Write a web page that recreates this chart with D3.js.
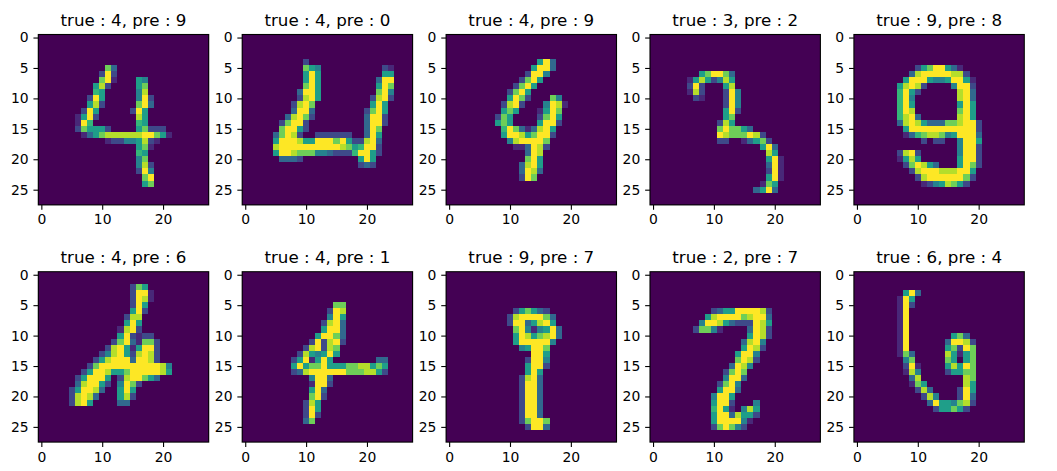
<!DOCTYPE html>
<html>
<head>
<meta charset="utf-8">
<script src="https://cdn.jsdelivr.net/npm/d3@7"></script>
<style>
  body { margin: 0; background: #fff; }
  text { font-family: "DejaVu Sans", sans-serif; }
</style>
</head>
<body>
<svg id="chart" width="1057" height="471"></svg>
<script>
const trueLabels = [4, 4, 4, 3, 9, 4, 4, 9, 2, 6];
const predLabels = [9, 0, 9, 2, 8, 6, 1, 7, 7, 4];
const xTicks = [0, 10, 20];
const yTicks = [0, 5, 10, 15, 20, 25];

// pixel runs: [row, first col, intensity 0-9 for each following col]
const digit0 = [[5,11,"73"],[6,10,"292"],[7,10,"791"],[7,16,"54"],[8,9,"582"],[8,16,"57"],[9,9,"65"],[9,16,"48"],
  [10,8,"295"],[10,16,"492"],[11,8,"582"],[11,16,"793"],[12,7,"295"],[12,15,"295"],[13,6,"1592"],[13,16,"85"],
  [14,6,"196"],[14,16,"65"],[15,6,"275552"],[15,16,"57222"],[16,7,"135788888899751"],[17,11,"122445821"],
  [18,16,"571"],[19,16,"65"],[20,16,"47"],[21,16,"482"],[22,16,"294"],[23,17,"79"],[24,17,"57"]];
const digit1 = [[4,10,"2"],[5,10,"754"],[5,23,"21"],[6,10,"595"],[6,23,"55"],[7,10,"595"],[7,22,"399"],
  [8,10,"795"],[8,22,"597"],[9,9,"3995"],[9,22,"794"],[10,9,"2895"],[10,21,"2892"],[11,8,"2897"],[11,21,"595"],
  [12,8,"3993"],[12,20,"2795"],[13,7,"38972"],[13,20,"3992"],[14,6,"27992"],[14,20,"3992"],[15,6,"79952"],[15,20,"397"],
  [16,5,"37982"],[16,12,"222222"],[16,20,"395"],[17,5,"599985599979522"],[17,20,"893"],
  [18,5,"899999999998756992"],[19,5,"599877744322269952"],[20,6,"3332"],[20,19,"595"],[21,19,"232"]];
const digit2 = [[4,15,"593"],[5,14,"5993"],[6,13,"2994"],[7,12,"2795"],[8,11,"2795"],[9,10,"2795"],[10,10,"5972"],[10,17,"74"],
  [11,9,"2892"],[11,16,"4981"],[12,9,"575"],[12,15,"1597"],[13,8,"275"],[13,15,"2795"],[14,8,"575"],[14,15,"5992"],
  [15,9,"697313895"],[16,9,"599857992"],[17,10,"4899997"],[18,11,"113982"],[19,13,"398"],[20,13,"795"],
  [21,12,"3895"],[22,12,"3983"],[23,12,"297"]];
const digit3 = [[6,8,"579973"],[7,6,"15852485"],[8,6,"292"],[8,12,"58"],[9,6,"182"],[9,12,"294"],[10,7,"21"],[10,12,"294"],
  [11,12,"294"],[12,12,"592"],[13,12,"57"],[14,11,"285"],[15,11,"797753"],[16,11,"98777982"],[17,11,"22"],[17,15,"13572"],
  [18,18,"593"],[19,19,"85"],[20,19,"591"],[21,19,"391"],[22,19,"291"],[23,19,"591"],[24,18,"175"],[25,17,"3593"]];
const digit4 = [[5,10,"25799531"],[6,9,"3899999882"],[7,8,"599954459951"],[8,7,"58982"],[8,16,"4992"],
  [9,7,"6952"],[9,17,"893"],[10,7,"694"],[10,17,"893"],[11,7,"695"],[11,17,"595"],[12,7,"698"],[12,17,"795"],
  [13,7,"6893"],[13,17,"895"],[14,7,"38985333778992"],[15,8,"5999999999992"],[16,8,"1367887459993"],
  [17,11,"2"],[17,13,"22"],[17,17,"4995"],[18,17,"4992"],[19,7,"2892"],[19,17,"4992"],[20,7,"1585"],[20,17,"5992"],
  [21,8,"279853"],[21,17,"5972"],[22,9,"28999888995"],[23,10,"2899999972"],[24,11,"12458752"]];
const digit5 = [[2,15,"275"],[3,15,"2991"],[4,15,"2981"],[5,15,"295"],[6,15,"592"],[7,14,"288"],[8,14,"595"],
  [9,13,"1892"],[10,13,"592122"],[11,12,"27931772"],[12,11,"289515992"],[13,10,"2489528982"],
  [14,9,"25899939982"],[15,8,"27999999999984"],[16,7,"259985579999985"],[17,6,"25999502899753"],
  [18,6,"389952"],[18,13,"4972"],[19,5,"259983"],[19,13,"595"],[20,5,"28983"],[20,13,"582"],[21,5,"2895"],[21,13,"33"]];
const digit6 = [[5,15,"77"],[6,14,"298"],[7,14,"495"],[8,13,"2893"],[9,13,"5993"],[10,12,"59973"],[11,11,"292892"],
  [12,10,"289287"],[13,9,"2854595"],[14,8,"2591595"],[14,22,"33"],[15,8,"5957795557788575"],
  [16,8,"2389999997778852"],[17,11,"4993"],[18,11,"1992"],[19,11,"593"],[20,11,"792"],[21,10,"285"],
  [22,10,"295"],[23,10,"292"],[24,10,"37"]];
const digit7 = [[6,11,"257532"],[7,10,"28999973"],[8,10,"29935895"],[9,11,"79414593"],[10,11,"59857893"],
  [11,11,"5999994"],[12,12,"45997"],[13,14,"995"],[14,13,"2994"],[15,13,"5992"],[16,13,"595"],[17,12,"2893"],
  [18,12,"2993"],[19,12,"2993"],[20,12,"2993"],[21,12,"2993"],[22,12,"2993"],[23,12,"2993"],[24,12,"27997"],[25,13,"2993"]];
const digit8 = [[6,10,"2355999982"],[7,9,"58999978993"],[8,8,"499853222985"],[9,7,"27741"],[9,16,"3982"],
  [10,16,"5982"],[11,15,"3894"],[12,15,"5982"],[13,14,"5994"],[14,14,"7982"],[15,13,"3984"],[16,12,"2797"],
  [17,12,"4993"],[18,11,"2794"],[19,11,"5993"],[20,10,"4995"],[21,10,"5992"],[21,17,"4"],[22,10,"69510485"],
  [23,10,"59938552"],[24,10,"5999941"],[25,10,"279742"]];
const digit9 = [[3,8,"593"],[4,7,"195"],[5,7,"192"],[6,7,"19"],[7,7,"19"],[8,7,"19"],[9,7,"19"],[10,7,"19"],[10,16,"573"],
  [11,7,"19"],[11,15,"39982"],[12,7,"19"],[12,15,"57297"],[13,7,"173"],[13,15,"85157"],[14,8,"47"],[14,15,"75057"],
  [15,8,"291"],[15,15,"58597"],[16,8,"184"],[16,15,"25577"],[17,9,"38"],[17,18,"87"],[18,9,"175"],[18,18,"85"],
  [19,10,"283"],[19,17,"295"],[20,11,"284"],[20,17,"293"],[21,12,"39554782"],[22,13,"255752"]];
const digits = [digit0, digit1, digit2, digit3, digit4, digit5, digit6, digit7, digit8, digit9];

const size = 28;
const side = 170.4;
const left0 = 38.3, stepX = 203.9;
const tops = [34.5, 271.7];

function toGrid(runs) {
    const grid = [];
    for (let r = 0; r < size; r++)
        for (let c = 0; c < size; c++) grid.push({ r: r, c: c, v: 0 });
    runs.forEach(([r, c0, s]) => {
        for (let k = 0; k < s.length; k++) grid[r * size + c0 + k].v = +s[k] / 9;
    });
    return grid;
}

const svg = d3.select("#chart");
const x = d3.scaleLinear().domain([-0.5, size - 0.5]).range([0, side]);
const y = d3.scaleLinear().domain([-0.5, size - 0.5]).range([0, side]);

digits.forEach((runs, i) => {
    const g = svg.append("g")
        .attr("transform", `translate(${left0 + (i % 5) * stepX},${tops[Math.floor(i / 5)]})`);

    // image cells
    g.append("g")
        .selectAll("rect")
        .data(toGrid(runs))
        .join("rect")
        .attr("x", d => x(d.c - 0.5))
        .attr("y", d => y(d.r - 0.5))
        .attr("width", x(1) - x(0))
        .attr("height", y(1) - y(0))
        .attr("fill", d => d3.interpolateViridis(d.v))
        .attr("shape-rendering", "crispEdges");

    // axes
    const xa = g.append("g")
        .attr("transform", `translate(0,${side})`)
        .call(d3.axisBottom(x).tickValues(xTicks).tickSize(4.86).tickPadding(4.86));
    const ya = g.append("g")
        .call(d3.axisLeft(y).tickValues(yTicks).tickSize(4.86).tickPadding(4.86));
    [xa, ya].forEach(a => {
        a.attr("font-family", null).attr("font-size", null);
        a.select(".domain").remove();
        a.selectAll("line").attr("stroke", "#000").attr("stroke-width", 1.1);
        a.selectAll("text").attr("fill", "#000").style("font-size", "13.9px");
    });

    // frame
    g.append("rect")
        .attr("width", side)
        .attr("height", side)
        .attr("fill", "none")
        .attr("stroke", "#000")
        .attr("stroke-width", 1.1);

    // title
    g.append("text")
        .attr("x", side / 2)
        .attr("y", -8.3)
        .attr("text-anchor", "middle")
        .style("font-size", "16.7px")
        .attr("fill", "#000")
        .text(`true : ${trueLabels[i]}, pre : ${predLabels[i]}`);
});
</script>
</body>
</html>
